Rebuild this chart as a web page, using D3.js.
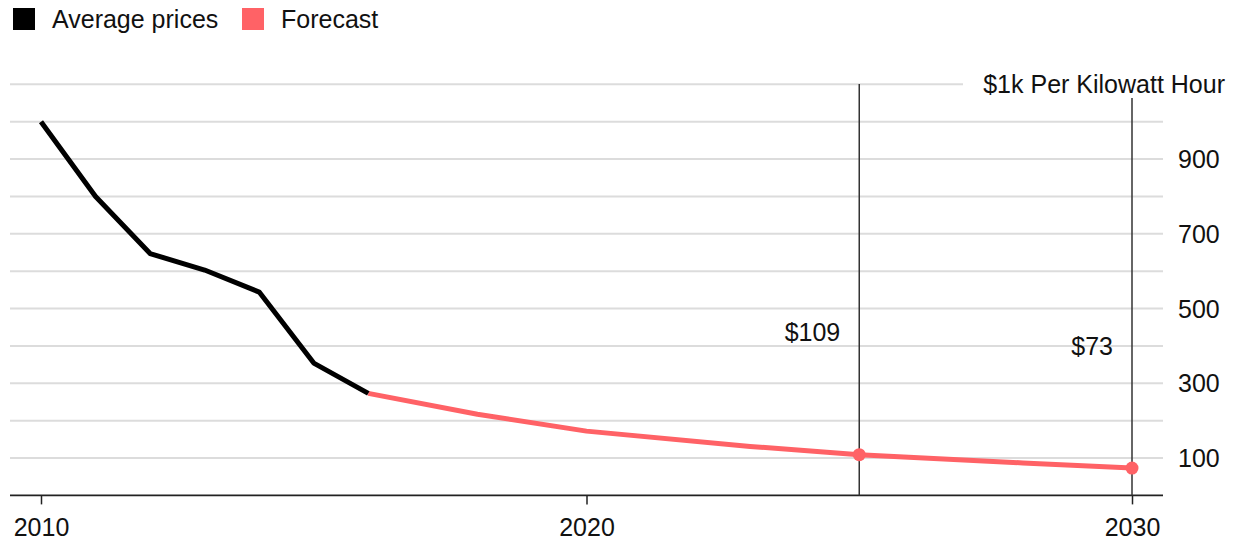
<!DOCTYPE html>
<html>
<head>
<meta charset="utf-8">
<script src="https://cdn.jsdelivr.net/npm/d3@7"></script>
<style>
  html, body { margin: 0; padding: 0; background: #fff; }
  svg { display: block; font-family: "Liberation Sans", Arial, Helvetica, sans-serif; }
</style>
</head>
<body>
<svg id="chart" width="1237" height="545"></svg>
<script>
// Battery pack prices, $ per kilowatt hour
const histYears = [2010, 2011, 2012, 2013, 2014, 2015, 2016];
const histValues = [1000, 800, 647, 603, 544, 354, 273];
const fcYears = [2016, 2018, 2020, 2023, 2025, 2028, 2030];
const fcValues = [273, 217, 172, 131, 109, 87, 73];
const markerYears = [2025, 2030];
const markerValues = [109, 73];
const markerLabels = ["$109", "$73"];
const xTickValues = [2010, 2020, 2030];
const yLabelValues = [100, 300, 500, 700, 900];
const yGridValues = d3.range(100, 1200, 100);
const topLabel = "$1k Per Kilowatt Hour";
const legendItems = [
  { name: "Average prices", color: "#000000" },
  { name: "Forecast", color: "#ff6266" }
];

const svg = d3.select("#chart");
const x = d3.scaleLinear().domain([2010, 2030]).range([41, 1132]);
const y = d3.scaleLinear().domain([0, 1100]).range([495.4, 84.3]);
const gridLeft = 10, gridRight = 1163;
const fs = 25;

// Legend
const leg = svg.append("g");
const legendOffsets = [13, 242];
legendItems.forEach((d, i) => {
  const gx = legendOffsets[i];
  leg.append("rect").attr("x", gx).attr("y", 8).attr("width", 22).attr("height", 22).attr("fill", d.color);
  leg.append("text").attr("x", gx + 39).attr("y", 28).attr("font-size", fs).attr("fill", "#111").text(d.name);
});

// Horizontal gridlines
svg.append("g").selectAll("line").data(yGridValues).join("line")
  .attr("x1", gridLeft)
  .attr("x2", d => d === 1100 ? 963 : gridRight)
  .attr("y1", d => y(d)).attr("y2", d => y(d))
  .attr("stroke", "#dcdcdc").attr("stroke-width", 2);

// Right-side value labels
svg.append("g").selectAll("text").data(yLabelValues).join("text")
  .attr("x", 1178).attr("y", d => y(d) + 9)
  .attr("font-size", fs).attr("fill", "#111")
  .text(d => d3.format("d")(d));
svg.append("text").attr("x", 1225).attr("y", y(1100) + 9)
  .attr("text-anchor", "end").attr("font-size", fs).attr("fill", "#111").text(topLabel);

// Baseline axis with year ticks
const xAxis = d3.axisBottom(x).tickValues(xTickValues).tickFormat(d3.format("d")).tickSize(9).tickPadding(14);
const ax = svg.append("g").attr("transform", `translate(0,${y(0)})`).call(xAxis);
ax.select(".domain").remove();
ax.selectAll(".tick line").attr("stroke", "#222").attr("stroke-width", 1.5);
ax.selectAll(".tick text").attr("font-size", fs).attr("fill", "#111").attr("font-family", "inherit");
svg.append("line").attr("x1", gridLeft).attr("x2", gridRight).attr("y1", y(0)).attr("y2", y(0))
  .attr("stroke", "#222").attr("stroke-width", 1.6);

// Marker verticals
const vTop = [84, 98];
svg.append("g").selectAll("line").data(markerYears).join("line")
  .attr("x1", d => x(d)).attr("x2", d => x(d))
  .attr("y1", (d, i) => vTop[i]).attr("y2", y(0))
  .attr("stroke", "#333").attr("stroke-width", 1.5);
const labelY = [341, 355];
svg.append("g").selectAll("text").data(markerYears).join("text")
  .attr("x", d => x(d) - 19).attr("y", (d, i) => labelY[i])
  .attr("text-anchor", "end").attr("font-size", fs).attr("fill", "#111")
  .text((d, i) => markerLabels[i]);

// Lines
const line = d3.line().x(d => x(d[0])).y(d => y(d[1]));
svg.append("path").datum(fcYears.map((yr, i) => [yr, fcValues[i]]))
  .attr("d", line).attr("fill", "none").attr("stroke", "#ff6266").attr("stroke-width", 5)
  .attr("stroke-linejoin", "round");
svg.append("path").datum(histYears.map((yr, i) => [yr, histValues[i]]))
  .attr("d", line).attr("fill", "none").attr("stroke", "#000").attr("stroke-width", 5)
  .attr("stroke-linejoin", "round");

// Marker dots
svg.append("g").selectAll("circle").data(markerYears).join("circle")
  .attr("cx", d => x(d)).attr("cy", (d, i) => y(markerValues[i]))
  .attr("r", 6.5).attr("fill", "#ff6266");
</script>
</body>
</html>
